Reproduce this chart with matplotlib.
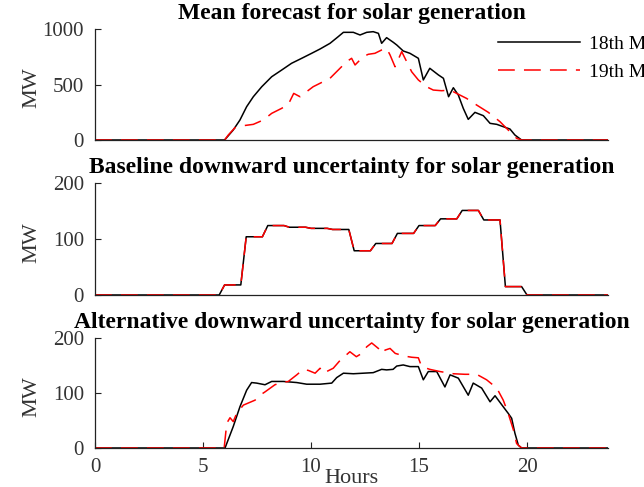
import matplotlib
matplotlib.use("Agg")
import matplotlib.pyplot as plt

plt.rcParams['font.family'] = ['Liberation Serif', 'DejaVu Serif']

# ---------------- data (hours, MW) ----------------
mean18_h = [0, 6.0, 6.4, 6.71, 7.02, 7.33, 7.72, 8.18, 8.64, 9.1, 9.57, 10.03, 10.42, 10.88,
            11.26, 11.5, 11.96, 12.27, 12.58, 12.88, 13.12, 13.27, 13.5, 13.81, 13.97, 14.27,
            14.58, 14.97, 15.2, 15.5, 15.9, 16.13, 16.37, 16.59, 16.82, 17.05, 17.28, 17.59,
            17.98, 18.29, 18.6, 18.9, 19.21, 19.44, 19.75, 23.75]
mean18_v = [0, 0, 90, 180, 300, 390, 480, 570, 630, 691, 736, 781, 820, 871,
            931, 970, 970, 946, 970, 976, 961, 871, 922, 880, 856, 802,
            781, 736, 541, 646, 586, 556, 390, 471, 405, 285, 186, 249,
            219, 150, 141, 120, 99, 45, 0, 0]

mean19_h = [0, 6.0, 6.17, 6.48, 6.87, 7.33, 7.79, 8.18, 8.64, 8.95, 9.2, 9.49, 10.1, 10.88,
            11.26, 11.65, 11.88, 12.04, 12.42, 12.65, 12.96, 13.27, 13.5, 13.66, 13.89, 14.2,
            14.66, 14.97, 15.35, 15.66, 16.05, 16.44, 16.74, 17.2, 17.67, 18.21, 18.75, 19.13,
            19.52, 19.75, 23.75]
mean19_v = [0, 0, 45, 111, 129, 141, 180, 240, 285, 321, 420, 390, 480, 556,
            630, 706, 736, 676, 751, 772, 781, 811, 826, 766, 660, 796,
            615, 541, 480, 450, 444, 450, 420, 375, 315, 249, 165, 90,
            15, 0, 0]

base18_h = [0, 5.75, 6, 6.75, 7, 7.75, 8, 8.75, 9, 9.75, 10, 10.75, 11, 11.75, 12, 12.75,
            13, 13.75, 14, 14.75, 15, 15.75, 16, 16.75, 17, 17.75, 18, 18.75, 19, 19.75, 20, 23.75]
base18_v = [0, 0, 18, 18, 104, 104, 124, 124, 121, 121, 119, 119, 117, 117, 79, 79,
            92, 92, 110, 110, 124, 124, 136, 136, 151, 151, 134, 134, 15, 15, 0, 0]
base19_h = list(base18_h)
base19_v = list(base18_v)

alt18_h = [0, 6.02, 6.4, 6.71, 7.02, 7.25, 7.48, 7.87, 8.18, 8.72, 9.34, 9.8, 10.42, 10.96,
           11.19, 11.5, 11.96, 12.42, 12.88, 13.27, 13.5, 13.8, 13.97, 14.27, 14.58, 14.97,
           15.2, 15.43, 15.82, 16.2, 16.44, 16.82, 17.28, 17.51, 17.9, 18.29, 18.52, 18.9,
           19.13, 19.29, 19.44, 19.6, 19.75, 23.75]
alt18_v = [0, 0, 39, 75, 105, 119, 118, 115, 121, 121, 119, 116, 116, 118,
           128, 136, 135, 136, 137, 143, 142, 143, 149, 151, 148, 148,
           124, 139, 139, 111, 133, 127, 96, 118, 109, 84, 95, 75,
           63, 54, 27, 5, 0, 0]

alt19_h = [0, 5.98, 6.1, 6.25, 6.4, 6.56, 6.87, 7.41, 7.64, 7.87, 8.33, 8.64, 8.95, 9.34,
           9.64, 9.88, 10.19, 10.42, 10.57, 11.03, 11.34, 11.8, 12.1, 12.35, 12.58, 12.81,
           13.12, 13.27, 13.43, 13.66, 13.9, 14.35, 14.66, 14.97, 15.12, 15.5, 15.97, 16.59,
           17.13, 17.67, 18.13, 18.6, 18.9, 19.13, 19.37, 19.52, 19.75, 23.75]
alt19_v = [0, 0, 45, 55, 48, 63, 78, 87, 96, 102, 115, 119, 121, 133,
           143, 141, 136, 145, 136, 145, 159, 175, 166, 172, 184, 191,
           181, 172, 178, 181, 172, 167, 165, 164, 148, 143, 139, 135,
           134, 134, 124, 109, 87, 63, 33, 8, 0, 0]

titles = ["Mean forecast for solar generation",
          "Baseline downward uncertainty for solar generation",
          "Alternative downward uncertainty for solar generation"]
labels = ["18th May", "19th May"]
ylims = [1000, 200, 200]
yticks = [[0, 500, 1000], [0, 100, 200], [0, 100, 200]]
xticks = [0, 5, 10, 15, 20]

# ---------------- figure ----------------
W, H = 644, 487
fig = plt.figure(figsize=(W / 100, H / 100), dpi=100)

left = 95 / W
width = (608 - 95) / W
boxes = [(29, 140), (183, 295), (338, 448)]
series = [((mean18_h, mean18_v), (mean19_h, mean19_v)),
          ((base18_h, base18_v), (base19_h, base19_v)),
          ((alt18_h, alt18_v), (alt19_h, alt19_v))]

axes = []
for i, ((t, b), ((h1, v1), (h2, v2))) in enumerate(zip(boxes, series)):
    ax = fig.add_axes([left, 1 - b / H, width, (b - t) / H])
    l1, = ax.plot(h1, v1, color='black', lw=1.1, label=labels[0])
    l2, = ax.plot(h2, v2, color='#ff0000', lw=1.1, dashes=(11, 6), label=labels[1])
    ax.set_xlim(0, 23.75)
    ax.set_ylim(0, ylims[i])
    ax.set_yticks(yticks[i])
    for s in ['top', 'right']:
        ax.spines[s].set_visible(False)
    for s in ['left', 'bottom']:
        ax.spines[s].set_color('#222222')
        ax.spines[s].set_linewidth(0.9)
    ax.tick_params(axis='y', direction='in', length=4, width=0.8, pad=8,
                   labelsize=15, colors='#222222')
    ax.tick_params(axis='y', labelcolor='#333333')
    if i < 2:
        ax.tick_params(axis='x', bottom=False, labelbottom=False)
    else:
        ax.set_xticks(xticks)
        ax.tick_params(axis='x', direction='in', length=4, width=0.8, pad=7,
                       labelsize=15, colors='#222222', labelcolor='#333333')
        ax.set_xlabel("Hours", fontsize=16, color='#333333')
        ax.xaxis.set_label_coords(0.5, -0.195)
        ax.xaxis.label.set_va('top')
    ax.set_title(titles[i], fontsize=17, fontweight='bold', pad=7)
    ax.set_ylabel("MW", fontsize=16, color='#333333')
    ax.yaxis.set_label_coords(-0.105, 0.47)
    axes.append(ax)
    if i == 0:
        handles = [l1, l2]

axes[0].legend(handles, labels, loc='upper left', bbox_to_anchor=(498 / W, 1 - 35 / H),
               bbox_transform=fig.transFigure, frameon=False, borderpad=0, borderaxespad=0,
               handlelength=4.2, handletextpad=0.5, labelspacing=0.55, fontsize=14)

fig.savefig("out.png", dpi=100)
